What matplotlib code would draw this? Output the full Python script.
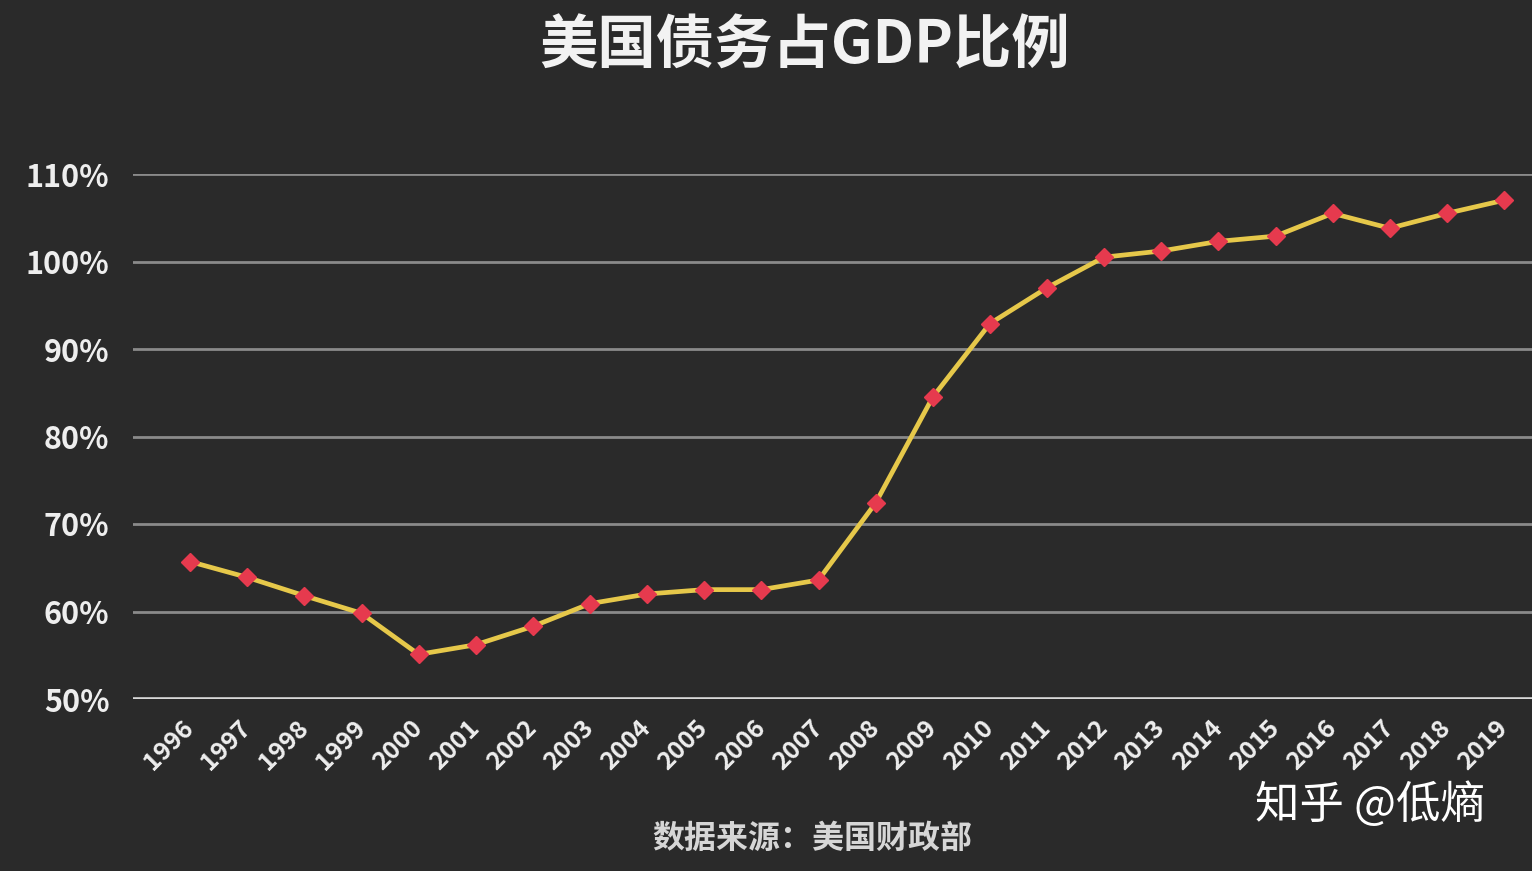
import matplotlib.pyplot as plt
import numpy as np

plt.rcParams['font.family'] = ['Noto Sans CJK SC', 'DejaVu Sans']

years = [str(y) for y in range(1996, 2020)]
debt_ratio = [65.7, 63.9, 61.8, 59.8, 55.1, 56.2, 58.3, 60.9, 62.0, 62.5, 62.5, 63.6,
              72.4, 84.5, 92.9, 97.0, 100.5, 101.2, 102.3, 102.9, 105.5, 103.8, 105.5, 107.0]
y_ticks = [50, 60, 70, 80, 90, 100, 110]
y_labels = ['50%', '60%', '70%', '80%', '90%', '100%', '110%']

bg = '#2a2a2a'
fig = plt.figure(figsize=(15.32, 8.71), dpi=100, facecolor=bg)
ax = fig.add_axes([133 / 1532, 1 - 699 / 871, 1 - 133 / 1532, (699 - 174) / 871])
ax.set_facecolor(bg)

x = np.arange(len(years))
for v in y_ticks:
    if v == 50:
        ax.axhline(v, color='#d8d8d8', lw=2.6, zorder=1)
    else:
        ax.axhline(v, color='#8a8a8a', lw=2.0, zorder=1)

ax.plot(x, debt_ratio, color='#e6c84a', lw=3.4, zorder=3, solid_joinstyle='round')
ax.plot(x, debt_ratio, ls='none', marker='D', ms=9.5, color='#e63a4e',
        markeredgecolor='#e63a4e', zorder=4, clip_on=False)

ax.set_xlim(-1.0, 23.49)
ax.set_ylim(50, 110)
ax.set_yticks(y_ticks)
ax.set_yticklabels(y_labels, color='#eeeeee', fontsize=22, fontweight='bold')
ax.set_xticks(x)
ax.set_xticklabels(years, color='#eeeeee', fontsize=18, fontweight='bold', rotation=45,
                   ha='right', va='center', rotation_mode='anchor')
ax.tick_params(axis='y', length=0, pad=17)
ax.tick_params(axis='x', length=0, pad=18)
for s in ax.spines.values():
    s.set_visible(False)

fig.text(805 / 1532, 1 - 47 / 871, '美国债务占GDP比例', color='#f2f2f2', fontsize=42,
         fontweight='bold', ha='center', va='center')
fig.text(812 / 1532, 1 - 839 / 871, '数据来源：美国财政部', color='#d6d6d6', fontsize=23,
         fontweight='bold', ha='center', va='center')
fig.text(1370 / 1532, 1 - 805 / 871, '知乎 @低熵', color='#ffffff', fontsize=32,
         ha='center', va='center')

fig.savefig('out.png', dpi=100, facecolor=bg)
